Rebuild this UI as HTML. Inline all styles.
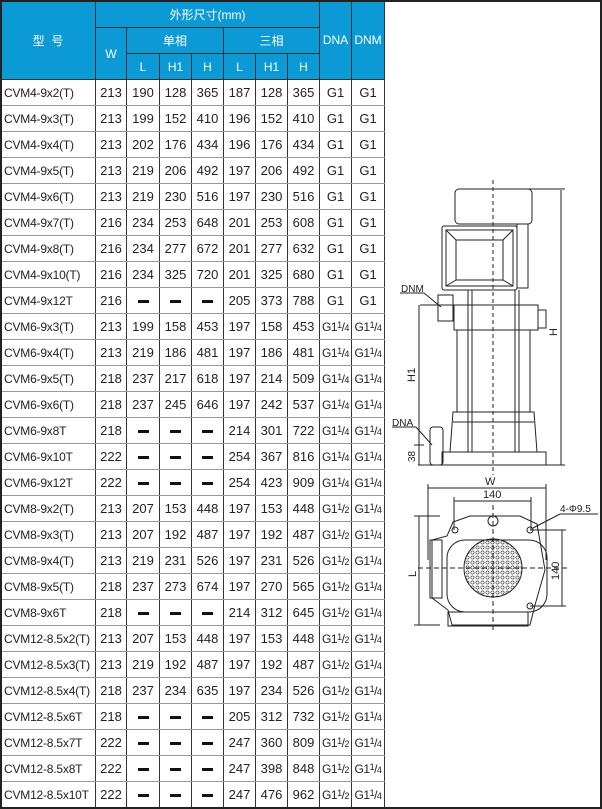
<!DOCTYPE html>
<html><head><meta charset="utf-8">
<style>
html,body{margin:0;padding:0;background:#fff;}
body{width:602px;height:809px;position:relative;overflow:hidden;font-family:"Liberation Sans","Noto Sans CJK SC",sans-serif;}
#frame{position:absolute;left:0;top:0;width:598px;height:805px;border:2px solid #222;}
table{position:absolute;left:0;top:0;border-collapse:collapse;table-layout:fixed;font-size:13px;color:#222;}
td{padding:0;text-align:center;border-left:1px solid #333;border-right:1px solid #333;border-bottom:1px solid #999;height:25px;white-space:nowrap;overflow:hidden;}
td.m{text-align:left;padding-left:3px;font-size:12px;letter-spacing:-0.2px;}
th{background:#0b9ad6;color:#fff;font-weight:normal;font-size:12px;border:1px solid #333;padding:0;}
.d{display:inline-block;width:11px;height:3px;background:#111;vertical-align:middle;}
.g{font-size:12px;letter-spacing:-0.5px;}
.g sup,.g sub{font-size:9px;}
.g sup{vertical-align:3px;} .g sub{vertical-align:0;}
</style></head><body>
<table>
<colgroup><col style="width:95px"><col style="width:31px"><col style="width:33px"><col style="width:32px"><col style="width:32px"><col style="width:32px"><col style="width:32px"><col style="width:32px"><col style="width:32px"><col style="width:33px"></colgroup>
<tr style="height:27px"><th rowspan="3">型&nbsp;&nbsp;号</th><th colspan="7">外形尺寸(mm)</th><th rowspan="3">DNA</th><th rowspan="3">DNM</th></tr>
<tr style="height:26px"><th rowspan="2">W</th><th colspan="3">单相</th><th colspan="3">三相</th></tr>
<tr style="height:26px"><th>L</th><th>H1</th><th>H</th><th>L</th><th>H1</th><th>H</th></tr>
<tr><td class="m">CVM4-9x2(T)</td><td>213</td><td>190</td><td>128</td><td>365</td><td>187</td><td>128</td><td>365</td><td>G1</td><td>G1</td></tr>
<tr><td class="m">CVM4-9x3(T)</td><td>213</td><td>199</td><td>152</td><td>410</td><td>196</td><td>152</td><td>410</td><td>G1</td><td>G1</td></tr>
<tr><td class="m">CVM4-9x4(T)</td><td>213</td><td>202</td><td>176</td><td>434</td><td>196</td><td>176</td><td>434</td><td>G1</td><td>G1</td></tr>
<tr><td class="m">CVM4-9x5(T)</td><td>213</td><td>219</td><td>206</td><td>492</td><td>197</td><td>206</td><td>492</td><td>G1</td><td>G1</td></tr>
<tr><td class="m">CVM4-9x6(T)</td><td>213</td><td>219</td><td>230</td><td>516</td><td>197</td><td>230</td><td>516</td><td>G1</td><td>G1</td></tr>
<tr><td class="m">CVM4-9x7(T)</td><td>216</td><td>234</td><td>253</td><td>648</td><td>201</td><td>253</td><td>608</td><td>G1</td><td>G1</td></tr>
<tr><td class="m">CVM4-9x8(T)</td><td>216</td><td>234</td><td>277</td><td>672</td><td>201</td><td>277</td><td>632</td><td>G1</td><td>G1</td></tr>
<tr><td class="m">CVM4-9x10(T)</td><td>216</td><td>234</td><td>325</td><td>720</td><td>201</td><td>325</td><td>680</td><td>G1</td><td>G1</td></tr>
<tr><td class="m">CVM4-9x12T</td><td>216</td><td><span class="d"></span></td><td><span class="d"></span></td><td><span class="d"></span></td><td>205</td><td>373</td><td>788</td><td>G1</td><td>G1</td></tr>
<tr><td class="m">CVM6-9x3(T)</td><td>213</td><td>199</td><td>158</td><td>453</td><td>197</td><td>158</td><td>453</td><td class="g">G1<sup>1</sup>/<sub>4</sub></td><td class="g">G1<sup>1</sup>/<sub>4</sub></td></tr>
<tr><td class="m">CVM6-9x4(T)</td><td>213</td><td>219</td><td>186</td><td>481</td><td>197</td><td>186</td><td>481</td><td class="g">G1<sup>1</sup>/<sub>4</sub></td><td class="g">G1<sup>1</sup>/<sub>4</sub></td></tr>
<tr><td class="m">CVM6-9x5(T)</td><td>218</td><td>237</td><td>217</td><td>618</td><td>197</td><td>214</td><td>509</td><td class="g">G1<sup>1</sup>/<sub>4</sub></td><td class="g">G1<sup>1</sup>/<sub>4</sub></td></tr>
<tr><td class="m">CVM6-9x6(T)</td><td>218</td><td>237</td><td>245</td><td>646</td><td>197</td><td>242</td><td>537</td><td class="g">G1<sup>1</sup>/<sub>4</sub></td><td class="g">G1<sup>1</sup>/<sub>4</sub></td></tr>
<tr><td class="m">CVM6-9x8T</td><td>218</td><td><span class="d"></span></td><td><span class="d"></span></td><td><span class="d"></span></td><td>214</td><td>301</td><td>722</td><td class="g">G1<sup>1</sup>/<sub>4</sub></td><td class="g">G1<sup>1</sup>/<sub>4</sub></td></tr>
<tr><td class="m">CVM6-9x10T</td><td>222</td><td><span class="d"></span></td><td><span class="d"></span></td><td><span class="d"></span></td><td>254</td><td>367</td><td>816</td><td class="g">G1<sup>1</sup>/<sub>4</sub></td><td class="g">G1<sup>1</sup>/<sub>4</sub></td></tr>
<tr><td class="m">CVM6-9x12T</td><td>222</td><td><span class="d"></span></td><td><span class="d"></span></td><td><span class="d"></span></td><td>254</td><td>423</td><td>909</td><td class="g">G1<sup>1</sup>/<sub>4</sub></td><td class="g">G1<sup>1</sup>/<sub>4</sub></td></tr>
<tr><td class="m">CVM8-9x2(T)</td><td>213</td><td>207</td><td>153</td><td>448</td><td>197</td><td>153</td><td>448</td><td class="g">G1<sup>1</sup>/<sub>2</sub></td><td class="g">G1<sup>1</sup>/<sub>4</sub></td></tr>
<tr><td class="m">CVM8-9x3(T)</td><td>213</td><td>207</td><td>192</td><td>487</td><td>197</td><td>192</td><td>487</td><td class="g">G1<sup>1</sup>/<sub>2</sub></td><td class="g">G1<sup>1</sup>/<sub>4</sub></td></tr>
<tr><td class="m">CVM8-9x4(T)</td><td>213</td><td>219</td><td>231</td><td>526</td><td>197</td><td>231</td><td>526</td><td class="g">G1<sup>1</sup>/<sub>2</sub></td><td class="g">G1<sup>1</sup>/<sub>4</sub></td></tr>
<tr><td class="m">CVM8-9x5(T)</td><td>218</td><td>237</td><td>273</td><td>674</td><td>197</td><td>270</td><td>565</td><td class="g">G1<sup>1</sup>/<sub>2</sub></td><td class="g">G1<sup>1</sup>/<sub>4</sub></td></tr>
<tr><td class="m">CVM8-9x6T</td><td>218</td><td><span class="d"></span></td><td><span class="d"></span></td><td><span class="d"></span></td><td>214</td><td>312</td><td>645</td><td class="g">G1<sup>1</sup>/<sub>2</sub></td><td class="g">G1<sup>1</sup>/<sub>4</sub></td></tr>
<tr><td class="m">CVM12-8.5x2(T)</td><td>213</td><td>207</td><td>153</td><td>448</td><td>197</td><td>153</td><td>448</td><td class="g">G1<sup>1</sup>/<sub>2</sub></td><td class="g">G1<sup>1</sup>/<sub>4</sub></td></tr>
<tr><td class="m">CVM12-8.5x3(T)</td><td>213</td><td>219</td><td>192</td><td>487</td><td>197</td><td>192</td><td>487</td><td class="g">G1<sup>1</sup>/<sub>2</sub></td><td class="g">G1<sup>1</sup>/<sub>4</sub></td></tr>
<tr><td class="m">CVM12-8.5x4(T)</td><td>218</td><td>237</td><td>234</td><td>635</td><td>197</td><td>234</td><td>526</td><td class="g">G1<sup>1</sup>/<sub>2</sub></td><td class="g">G1<sup>1</sup>/<sub>4</sub></td></tr>
<tr><td class="m">CVM12-8.5x6T</td><td>218</td><td><span class="d"></span></td><td><span class="d"></span></td><td><span class="d"></span></td><td>205</td><td>312</td><td>732</td><td class="g">G1<sup>1</sup>/<sub>2</sub></td><td class="g">G1<sup>1</sup>/<sub>4</sub></td></tr>
<tr><td class="m">CVM12-8.5x7T</td><td>222</td><td><span class="d"></span></td><td><span class="d"></span></td><td><span class="d"></span></td><td>247</td><td>360</td><td>809</td><td class="g">G1<sup>1</sup>/<sub>2</sub></td><td class="g">G1<sup>1</sup>/<sub>4</sub></td></tr>
<tr><td class="m">CVM12-8.5x8T</td><td>222</td><td><span class="d"></span></td><td><span class="d"></span></td><td><span class="d"></span></td><td>247</td><td>398</td><td>848</td><td class="g">G1<sup>1</sup>/<sub>2</sub></td><td class="g">G1<sup>1</sup>/<sub>4</sub></td></tr>
<tr><td class="m">CVM12-8.5x10T</td><td>222</td><td><span class="d"></span></td><td><span class="d"></span></td><td><span class="d"></span></td><td>247</td><td>476</td><td>962</td><td class="g">G1<sup>1</sup>/<sub>2</sub></td><td class="g">G1<sup>1</sup>/<sub>4</sub></td></tr>
</table>
<div id="frame"></div>
<svg width="602" height="809" style="position:absolute;left:0;top:0" font-family="Liberation Sans, sans-serif" font-size="10" fill="none" stroke="#222" stroke-width="1">
<defs><pattern id="dots" width="5" height="5" patternUnits="userSpaceOnUse"><circle cx="2.5" cy="2.5" r="1.6" stroke="#333" stroke-width="0.6" fill="none"/></pattern></defs>
<line x1="493" y1="180" x2="493" y2="475" stroke-dasharray="4,3"/>
<rect x="455" y="189" width="77" height="35" rx="4"/>
<rect x="442" y="226" width="75" height="64" rx="2"/>
<path d="M446 230 L513 230 L513 286 L446 286 Z M456 240 L503 240 L503 280 L456 280 Z M446 230 L456 240 M513 230 L503 240 M446 286 L456 280 M513 286 L503 280"/>
<rect x="517" y="224" width="11" height="64"/>
<rect x="438" y="295" width="15" height="26"/>
<rect x="454" y="305" width="84" height="25"/>
<rect x="538" y="310" width="8" height="18"/>
<line x1="457" y1="330" x2="457" y2="412"/><line x1="530" y1="330" x2="530" y2="412"/>
<line x1="468" y1="290" x2="468" y2="452"/><line x1="472" y1="290" x2="472" y2="452"/>
<line x1="515" y1="290" x2="515" y2="452"/><line x1="519" y1="290" x2="519" y2="452"/>
<path d="M453 412 L534 412 L537 452 L450 452 Z"/>
<line x1="453" y1="422" x2="534" y2="422"/>
<rect x="442" y="452" width="104" height="13"/>
<rect x="430" y="427" width="13" height="38" rx="3"/>
<line x1="418" y1="465" x2="565" y2="465"/>
<line x1="525" y1="189" x2="565" y2="189"/>
<line x1="420" y1="305" x2="454" y2="305"/>
<line x1="561" y1="190" x2="561" y2="465"/>
<line x1="419" y1="305" x2="419" y2="465"/>
<line x1="414" y1="445" x2="424" y2="445"/>
<line x1="400" y1="293" x2="424" y2="293"/><line x1="424" y1="293" x2="441" y2="307"/>
<line x1="392" y1="427" x2="416" y2="427"/><line x1="416" y1="427" x2="432" y2="445"/>
<g fill="#222" stroke="none">
<text x="401" y="292" font-size="10">DNM</text>
<text x="392" y="426" font-size="10">DNA</text>
<text transform="translate(557,336) rotate(-90)" font-size="11">H</text>
<text transform="translate(415,382) rotate(-90)" font-size="11">H1</text>
<text transform="translate(415,462) rotate(-90)" font-size="10">38</text>
</g>
<line x1="428" y1="488" x2="546" y2="488"/><line x1="428" y1="484" x2="428" y2="560"/><line x1="546" y1="484" x2="546" y2="560"/>
<line x1="454" y1="501" x2="531" y2="501"/><line x1="454" y1="497" x2="454" y2="530"/><line x1="531" y1="497" x2="531" y2="530"/>
<path d="M453 522 L470 516 L520 516 L537 524 L545 570 L535 605 L530 625 L452 625 L448 610 L432 598 L432 540 L447 536 Z"/>
<rect x="430" y="540" width="12" height="58"/>
<rect x="447" y="540" width="100" height="72" rx="18"/>
<circle cx="493" cy="568" r="29" fill="url(#dots)"/>
<circle cx="493" cy="521" r="5"/><circle cx="455" cy="530" r="3"/><circle cx="530" cy="530" r="3"/><circle cx="530" cy="606" r="3"/>
<rect x="448" y="612" width="80" height="14"/>
<line x1="418" y1="568" x2="570" y2="568" stroke-dasharray="5,3"/>
<line x1="493" y1="505" x2="493" y2="632" stroke-dasharray="5,3"/>
<line x1="419" y1="516" x2="419" y2="625"/><line x1="414" y1="516" x2="440" y2="516"/><line x1="414" y1="625" x2="440" y2="625"/>
<line x1="562" y1="530" x2="562" y2="606"/><line x1="530" y1="530" x2="566" y2="530"/><line x1="530" y1="606" x2="566" y2="606"/>
<line x1="560" y1="514" x2="598" y2="514"/><line x1="560" y1="514" x2="533" y2="528"/>
<g fill="#222" stroke="none">
<text x="485" y="485" font-size="11">W</text>
<text x="483" y="498" font-size="11">140</text>
<text x="560" y="512" font-size="10">4-Φ9.5</text>
<text transform="translate(416,577) rotate(-90)" font-size="11">L</text>
<text transform="translate(559,580) rotate(-90)" font-size="11">140</text>
</g>
</svg>
</body></html>
